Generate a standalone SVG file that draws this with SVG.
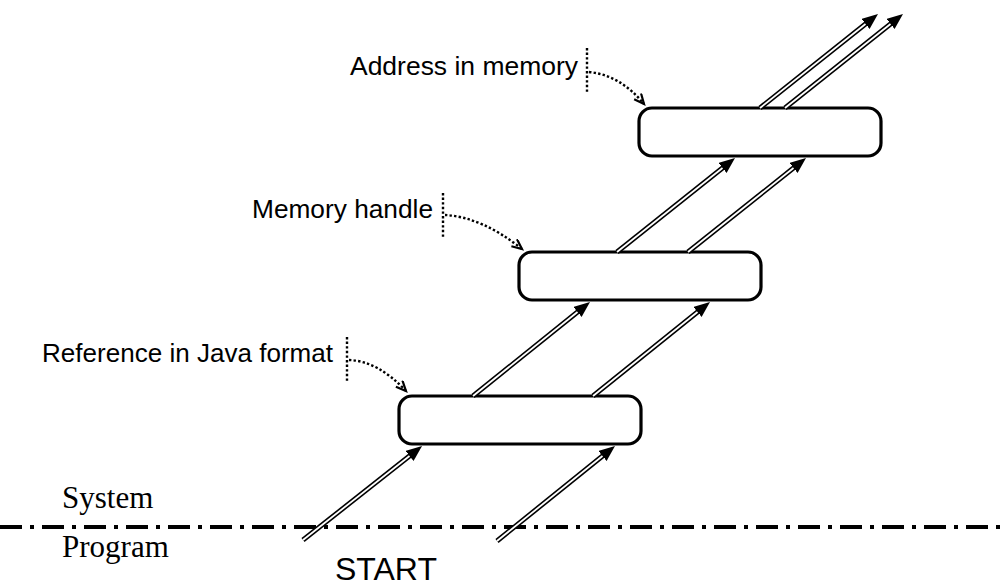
<svg xmlns="http://www.w3.org/2000/svg" width="1008" height="585" viewBox="0 0 1008 585">
<style>
.box{fill:#fff;stroke:#000;stroke-width:3.2}
.dbl{fill:none;stroke:#000;stroke-width:5;marker-end:url(#ah)}
.inner{fill:none;stroke:#fff;stroke-width:1.8}
.dot{fill:none;stroke:#000;stroke-width:2.4;stroke-dasharray:2.4 2.2}
.lbl{font-family:"Liberation Sans",Arial,sans-serif;font-size:25px;fill:#000}
.ser{font-family:"Liberation Serif","Times New Roman",serif;font-size:31px;fill:#000}
</style>
<defs>
<marker id="ah" markerUnits="userSpaceOnUse" markerWidth="18" markerHeight="15" viewBox="0 0 18 15" refX="6" refY="6.5" orient="auto"><path d="M0,0 L16,6.5 L0,13 z" fill="#000"/></marker>
<marker id="oa" markerUnits="userSpaceOnUse" markerWidth="14" markerHeight="12" viewBox="0 0 14 12" refX="11" refY="5" orient="auto"><path d="M1,0.5 L11,5 L1,9.5" fill="none" stroke="#000" stroke-width="2.2"/></marker>
</defs>
<g id="boundary">
<line x1="0" y1="527" x2="1008" y2="527" stroke="#000" stroke-width="4" stroke-dasharray="22 8 4 8"/>
<text class="ser" x="62" y="508">System</text>
<text class="ser" x="62" y="557">Program</text>
</g>
<g id="box1"><rect class="box" x="399" y="396" width="242" height="48" rx="13"/></g>
<g id="box2"><rect class="box" x="519" y="252" width="242" height="48" rx="13"/></g>
<g id="box3"><rect class="box" x="639" y="108" width="242" height="48" rx="13"/></g>
<g id="start"><text x="335" y="580" font-family="'Liberation Sans',Arial,sans-serif" font-size="32">START</text></g>
<g id="label1">
<text class="lbl" x="42" y="362" textLength="291" lengthAdjust="spacingAndGlyphs">Reference in Java format</text>
<line class="dot" x1="347" y1="337" x2="347" y2="382"/>
</g>
<g id="label2">
<text class="lbl" x="252" y="218" textLength="181" lengthAdjust="spacingAndGlyphs">Memory handle</text>
<line class="dot" x1="443" y1="193" x2="443" y2="237"/>
</g>
<g id="label3">
<text class="lbl" x="350" y="75" textLength="228" lengthAdjust="spacingAndGlyphs">Address in memory</text>
<line class="dot" x1="587" y1="48" x2="587" y2="93"/>
</g>
<g id="connectors">
<path class="dot" d="M349,360 Q378,361 406,391" marker-end="url(#oa)"/>
<path class="dot" d="M445,215 Q482,217 522,249" marker-end="url(#oa)"/>
<path class="dot" d="M589,72 Q620,75 644,104" marker-end="url(#oa)"/>
<path class="dbl" d="M303,540 L414.2,452.25"/><path class="inner" d="M303,540 L409.5,456"/>
<path class="dbl" d="M497,541 L607.2,452.25"/><path class="inner" d="M497,541 L602.5,456"/>
<path class="dbl" d="M473,396 L582.2,308.25"/><path class="inner" d="M473,396 L577.5,312"/>
<path class="dbl" d="M593,396 L702.2,308.25"/><path class="inner" d="M593,396 L697.5,312"/>
<path class="dbl" d="M617,252 L727.2,164.25"/><path class="inner" d="M617,252 L722.5,168"/>
<path class="dbl" d="M688,252 L798.2,164.25"/><path class="inner" d="M688,252 L793.5,168"/>
<path class="dbl" d="M760,108 L870.2,20.25"/><path class="inner" d="M760,108 L865.5,24"/>
<path class="dbl" d="M785,108 L895.2,20.25"/><path class="inner" d="M785,108 L890.5,24"/>
</g>
</svg>
